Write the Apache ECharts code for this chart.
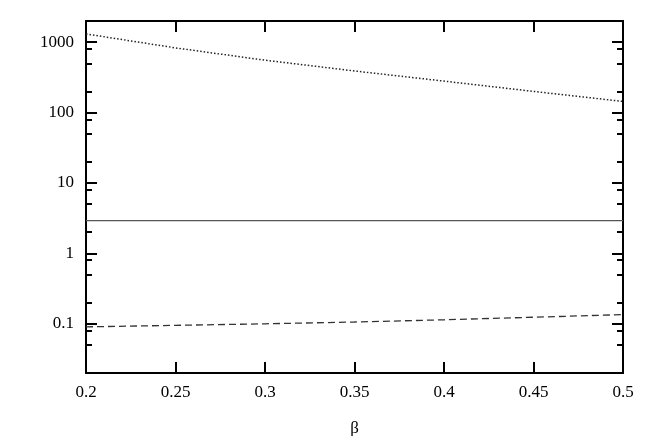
<!DOCTYPE html>
<html>
<head>
<meta charset="utf-8">
<script src="https://cdn.jsdelivr.net/npm/echarts@6/dist/echarts.min.js"></script>
<style>
  html, body { margin: 0; padding: 0; background: #fff; }
  #chart { width: 654px; height: 436px; }
</style>
</head>
<body>
<div id="chart"></div>
<script>
// beta values along the x axis
var betaValues = [0.2, 0.25, 0.3, 0.35, 0.4, 0.45, 0.5];
// dotted curve (top), solid constant, dashed curve (bottom)
var dottedValues = [1310, 830, 555, 390, 280, 200, 144];
var solidValues = [2.93, 2.93, 2.93, 2.93, 2.93, 2.93, 2.93];
var dashedValues = [0.0905, 0.095, 0.1, 0.106, 0.114, 0.124, 0.135];
// tick positions for the log axis
var majorTicks = [0.1, 1, 10, 100, 1000];
var minorTicks = [0.05, 0.08, 0.2, 0.5, 0.8, 2, 5, 8, 20, 50, 80, 200, 500, 800];

function pairs(xs, ys) {
  return xs.map(function (x, i) { return [x, ys[i]]; });
}

var font = 'Liberation Serif';

function yAx(pos, ticks, len, labels) {
  return {
    type: 'log',
    logBase: 10,
    position: pos,
    min: 0.02,
    max: 2000,
    axisLine: { show: true, lineStyle: { color: '#000', width: 2 } },
    axisTick: { show: true, inside: true, length: len, customValues: ticks, lineStyle: { color: '#000', width: 2 } },
    axisLabel: labels ? {
      show: true, customValues: majorTicks, margin: 12,
      fontFamily: font, fontSize: 17, color: '#000',
      formatter: function (v) { return String(v); }
    } : { show: false },
    splitLine: { show: false },
    minorTick: { show: false }
  };
}

function xAx(pos, labels) {
  return {
    type: 'value',
    position: pos,
    min: 0.2,
    max: 0.5,
    interval: 0.05,
    name: labels ? 'β' : '',
    nameLocation: 'middle',
    nameGap: 47,
    nameTextStyle: { fontFamily: font, fontSize: 17, color: '#000' },
    axisLine: { show: true, lineStyle: { color: '#000', width: 2 } },
    axisTick: { show: true, inside: true, length: 11, lineStyle: { color: '#000', width: 2 } },
    axisLabel: { show: labels, margin: 11, fontFamily: font, fontSize: 17, color: '#000' },
    splitLine: { show: false }
  };
}

var chart = echarts.init(document.getElementById('chart'));
chart.setOption({
  backgroundColor: '#fff',
  animation: false,
  grid: { left: 86, right: 31, top: 21, bottom: 63, containLabel: false, outerBoundsMode: 'none' },
  xAxis: [xAx('bottom', true), xAx('top', false)],
  yAxis: [
    yAx('left', majorTicks, 11, true),
    yAx('left', minorTicks, 6, false),
    yAx('right', majorTicks, 11, false),
    yAx('right', minorTicks, 6, false)
  ],
  series: [
    {
      type: 'line', xAxisIndex: 0, yAxisIndex: 0, showSymbol: false,
      data: pairs(betaValues, dottedValues),
      lineStyle: { color: '#222', width: 1.5, type: [1.5, 2] }
    },
    {
      type: 'line', xAxisIndex: 0, yAxisIndex: 0, showSymbol: false,
      data: pairs(betaValues, solidValues),
      lineStyle: { color: '#555', width: 1.3, type: 'solid' }
    },
    {
      type: 'line', xAxisIndex: 0, yAxisIndex: 0, showSymbol: false,
      data: pairs(betaValues, dashedValues),
      lineStyle: { color: '#333', width: 1.3, type: [7, 4] }
    }
  ]
});
</script>
</body>
</html>
